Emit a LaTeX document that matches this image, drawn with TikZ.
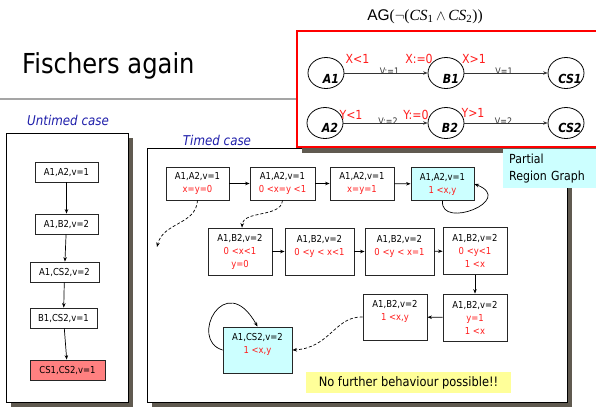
\documentclass[tikz,border=0pt]{standalone}
\usepackage{fontspec}
\usetikzlibrary{arrows.meta,shapes.geometric}
\newfontfamily\tah{DejaVu Sans}[FakeStretch=0.88]
\newfontfamily\ari{Liberation Sans}
\newfontfamily\lser{Liberation Serif}
\definecolor{shadowc}{RGB}{96,90,80}
\definecolor{redt}{RGB}{255,30,30}
\definecolor{cyanc}{RGB}{204,255,255}
\definecolor{pinkc}{RGB}{255,128,128}
\definecolor{yellowc}{RGB}{255,255,153}
\definecolor{bluet}{RGB}{30,30,170}
\definecolor{grayl}{RGB}{165,165,165}
\newcommand{\rt}[1]{\textcolor{redt}{#1}}
\newcommand{\csx}[1]{{\lser\itshape CS}\textsubscript{\lser\upshape #1}}
\begin{document}
\begin{tikzpicture}[x=1pt,y=-1pt,
  tn/.style={draw=black!85, fill=white, line width=0.8pt, align=center, inner sep=0pt,
    font=\tah\fontsize{9.6}{13}\selectfont},
  un/.style={tn, minimum height=20pt},
  st/.style={ellipse, draw, line width=0.8pt, minimum width=36pt, minimum height=31pt, inner sep=0pt},
  stlbl/.style={font=\tah\bfseries\itshape\fontsize{12.5}{12.5}\selectfont, inner sep=0pt},
  elbl/.style={font=\tah\fontsize{12.5}{12.5}\selectfont, text=redt, inner sep=0pt},
  vlbl/.style={font=\tah\fontsize{9}{9}\selectfont, inner sep=0pt, text=black!80},
  tip/.style={line width=0.7pt, -{Stealth[length=4.5pt,width=3.5pt]}},
  dsh/.style={tip, dash pattern=on 3pt off 2pt},
  case/.style={font=\tah\itshape\fontsize{13.5}{13.5}\selectfont, text=bluet, inner sep=0pt}
]
\useasboundingbox (0,0) rectangle (596,410);

% title and rule
\node[anchor=base west, font=\tah\fontsize{27.5}{27.5}\selectfont, inner sep=0pt] (title) at (22,73) {Fischers again};
\draw[grayl, line width=2.8pt] (0,99) -- (297,99);

% untimed case
\node[case] (ucase) at (68,120) {Untimed case};
\fill[shadowc] (11,138) rectangle (133,407);
\draw[fill=white, line width=0.8pt] (6,133) rectangle (128,402);
\node[un, minimum width=63pt] (U1) at (66.5,172) {A1,A2,v=1};
\node[un, minimum width=63pt] (U2) at (66.5,224) {A1,B2,v=2};
\node[un, minimum width=69pt] (U3) at (64.5,272) {A1,CS2,v=2};
\node[un, minimum width=67pt] (U4) at (63.5,318) {B1,CS2,v=1};
\node[un, minimum width=75pt, fill=pinkc] (U5) at (67.5,370) {CS1,CS2,v=1};
\draw[tip] (U1) -- (U2);
\draw[tip] (U2) -- (U3);
\draw[tip] (U3) -- (U4);
\draw[tip] (U4) -- (U5);

% timed case box
\node[case] (tcase) at (217,140) {Timed case};
\fill[shadowc] (152,153) rectangle (572,407);
\draw[fill=white, line width=0.8pt] (147,148) rectangle (567,402);

% automaton box
\fill[shadowc] (302,36) rectangle (605,153);
\draw[red, line width=2pt, fill=white] (297,31) rectangle (605,147);
\node[font=\ari\fontsize{15.5}{15.5}\selectfont, inner sep=0pt] (ag) at (425,17)
  {AG{\lser(}$\neg${\lser(}\csx{1}\,$\wedge$\,\csx{2}{\lser))}};

\node[st] (A1) at (326,73) {};
\node[st] (B1) at (446,73) {};
\node[st] (CS1) at (566,73) {};
\node[st] (A2) at (325,123) {};
\node[st] (B2) at (446,123) {};
\node[st] (CS2) at (566,123) {};
\node[stlbl] (A1l) at (331,79) {A1};
\node[stlbl] (B1l) at (451,79) {B1};
\node[stlbl] (CS1l) at (570,79) {CS1};
\node[stlbl] (A2l) at (330,128) {A2};
\node[stlbl] (B2l) at (450,128) {B2};
\node[stlbl] (CS2l) at (570,128) {CS2};
\draw[tip, black!80] (A1) -- (B1);
\draw[tip, black!80] (B1) -- (CS1);
\draw[tip, black!80] (A2) -- (B2);
\draw[tip, black!80] (B2) -- (CS2);
\node[elbl] (l1) at (357.5,59) {X<1};
\node[elbl] (l2) at (419,59) {X:=0};
\node[elbl] (l3) at (474,59) {X>1};
\node[elbl] (l4) at (351,115) {Y<1};
\node[elbl] (l5) at (416,115) {Y:=0};
\node[elbl] (l6) at (473,112.5) {Y>1};
\node[vlbl] (v1) at (389.5,71) {V:=1};
\node[vlbl] (v2) at (504,71) {V=1};
\node[vlbl] (v3) at (388,121) {V:=2};
\node[vlbl] (v4) at (503.5,121) {V=2};

% partial region graph label
\node[fill=cyanc, anchor=north west, align=left, text width=86pt, minimum height=39pt,
  inner xsep=6pt, inner ysep=3pt, font=\tah\fontsize{12.5}{17}\selectfont] (prg) at (503,148.5) {Partial\\Region Graph};

% timed nodes
\node[tn, minimum width=63pt, minimum height=33pt] (T1) at (197.5,183.5) {A1,A2,v=1\\\rt{x=y=0}};
\node[tn, minimum width=65pt, minimum height=33pt] (T2) at (282.5,183.5) {A1,A2,v=1\\\rt{0 <x=y <1}};
\node[tn, minimum width=64pt, minimum height=33pt] (T3) at (362,183.5) {A1,A2,v=1\\\rt{x=y=1}};
\node[tn, minimum width=63pt, minimum height=33pt, fill=cyanc] (T4) at (442.5,184) {A1,A2,v=1\\\rt{1 <x,y}};
\node[tn, minimum width=64pt, minimum height=47pt] (T5) at (240,251.5) {A1,B2,v=2\\\rt{0 <x<1}\\\rt{y=0}};
\node[tn, minimum width=69pt, minimum height=47pt] (T6) at (319.5,251.5) {A1,B2,v=2\\\rt{0 <y < x<1}\\~};
\node[tn, minimum width=69pt, minimum height=47pt] (T7) at (399.5,251.5) {A1,B2,v=2\\\rt{0 <y < x=1}\\~};
\node[tn, minimum width=64pt, minimum height=47pt] (T8) at (475,251) {A1,B2,v=2\\\rt{0 <y<1}\\\rt{1 <x}};
\node[tn, minimum width=64pt, minimum height=47pt] (T9) at (475,317.5) {A1,B2,v=2\\\rt{y=1}\\\rt{1 <x}};
\node[tn, minimum width=64pt, minimum height=46pt] (T10) at (395,317) {A1,B2,v=2\\\rt{1 <x,y}\\~};
\node[tn, minimum width=69pt, minimum height=46pt, fill=cyanc] (T11) at (257.5,350) {A1,CS2,v=2\\\rt{1 <x,y}\\~};

\draw[tip] (T1) -- (T2);
\draw[tip] (T2) -- (T3);
\draw[tip] (T3) -- (T4);
\draw[tip] (T5) -- (T6);
\draw[tip] (T6) -- (T7);
\draw[tip] (T7) -- (T8);
\draw[tip] (T8) -- (T9);
\draw[tip] (T9) -- (T10);
\draw[tip] (T4.south) .. controls (440,230) and (516,200) .. (T4.east);
\draw[tip] (T11.west) .. controls (188,340) and (225,268) .. (T11.north);
\coordinate (d1) at (157,247);
\draw[dsh] (T1.south) .. controls (196,225) and (163,222) .. (d1);
\draw[dsh] (T2.south) .. controls (281,218) and (243,210) .. ([xshift=2pt]T5.north);
\draw[dsh] (T10.west) .. controls (335,316) and (330,348) .. (T11.east);

\node[fill=yellowc, minimum width=205pt, minimum height=21pt, inner sep=0pt,
  font=\tah\fontsize{13}{13}\selectfont] (nf) at (408.5,382.5) {No further behaviour possible!!};
\end{tikzpicture}
\end{document}
